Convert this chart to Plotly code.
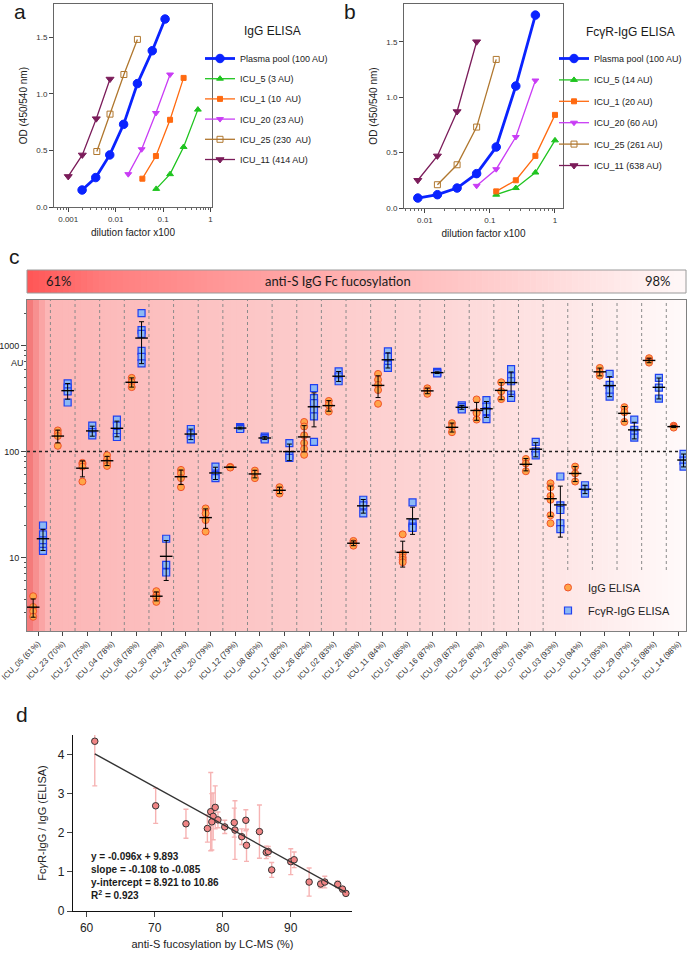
import numpy as np
import plotly.graph_objects as go

W, H = 688, 954
FONT = "Arial, Liberation Sans, sans-serif"


def fx(p):
    return p / W


def fy(p):
    return 1 - p / H


# ---------------- Panel a : IgG ELISA ----------------
a_names = ["Plasma pool (100 AU)", "ICU_5 (3 AU)", "ICU_1 (10  AU)", "ICU_20 (23 AU)",
           "ICU_25 (230  AU)", "ICU_11 (414 AU)"]
a_pool_x = [0.00196, 0.0038, 0.0075, 0.0147, 0.0287, 0.059, 0.11]
a_pool_y = [0.15, 0.26, 0.46, 0.73, 1.09, 1.38, 1.66]
a_icu5_x = [0.0715, 0.14, 0.27, 0.54]
a_icu5_y = [0.16, 0.29, 0.53, 0.86]
a_icu1_x = [0.0365, 0.0705, 0.14, 0.27]
a_icu1_y = [0.25, 0.45, 0.77, 1.14]
a_icu20_x = [0.0184, 0.0353, 0.0705, 0.14]
a_icu20_y = [0.29, 0.51, 0.83, 1.17]
a_icu25_x = [0.0040, 0.0076, 0.0149, 0.0287]
a_icu25_y = [0.49, 0.82, 1.17, 1.48]
a_icu11_x = [0.0010, 0.00198, 0.0039, 0.0076]
a_icu11_y = [0.27, 0.46, 0.78, 1.13]

# ---------------- Panel b : FcgR-IgG ELISA ----------------
b_names = ["Plasma pool (100 AU)", "ICU_5 (14 AU)", "ICU_1 (20 AU)", "ICU_20 (60 AU)",
           "ICU_25 (261 AU)", "ICU_11 (638 AU)"]
b_pool_x = [0.0078, 0.0156, 0.0313, 0.0625, 0.125, 0.25, 0.5]
b_pool_y = [0.09, 0.12, 0.18, 0.31, 0.55, 1.10, 1.74]
b_icu5_x = [0.125, 0.25, 0.5, 1.0]
b_icu5_y = [0.12, 0.18, 0.32, 0.61]
b_icu1_x = [0.125, 0.25, 0.5, 1.0]
b_icu1_y = [0.15, 0.25, 0.47, 0.84]
b_icu20_x = [0.0625, 0.125, 0.25, 0.5]
b_icu20_y = [0.20, 0.35, 0.64, 1.15]
b_icu25_x = [0.0156, 0.0313, 0.0625, 0.125]
b_icu25_y = [0.21, 0.39, 0.73, 1.34]
b_icu11_x = [0.0078, 0.0156, 0.0313, 0.0625]
b_icu11_y = [0.25, 0.47, 0.87, 1.50]

# ---------------- Panel c : per-patient AU ----------------
c_labels = ["ICU_05 (61%)", "ICU_23 (70%)", "ICU_27 (75%)", "ICU_04 (78%)", "ICU_06 (78%)",
            "ICU_30 (79%)", "ICU_24 (79%)", "ICU_20 (79%)", "ICU_12 (79%)", "ICU_08 (80%)",
            "ICU_17 (82%)", "ICU_26 (82%)", "ICU_02 (83%)", "ICU_21 (83%)", "ICU_11 (84%)",
            "ICU_01 (85%)", "ICU_16 (87%)", "ICU_09 (87%)", "ICU_25 (87%)", "ICU_22 (90%)",
            "ICU_07 (91%)", "ICU_03 (93%)", "ICU_10 (94%)", "ICU_13 (95%)", "ICU_29 (97%)",
            "ICU_15 (98%)", "ICU_14 (98%)"]
igg_reps = [
    [4.3, 3.4, 3.1, 2.75], [158, 148, 140, 113], [78, 76, 72, 52], [92, 84, 78, 73],
    [495, 450, 405], [4.8, 4.4, 4.2, 3.8], [67, 62, 56, 46], [29, 26, 22.5, 17.5],
    [71.5, 71, 70.5], [66, 62, 56], [46, 43, 40], [190, 172, 142, 120, 106, 93],
    [300, 275, 238], [14.3, 13.6, 12.9], [540, 475, 425, 380, 282], [16.5, 10.8, 10, 9.5, 9],
    [395, 375, 350], [185, 170, 152], [310, 235, 230, 200], [450, 370, 312],
    [85, 77, 65], [50, 46, 38, 35, 25, 21], [72, 62, 52], [615, 560, 520],
    [262, 235, 190], [760, 720, 690], [175, 172, 168]]
fcr_reps = [
    [20, 16.5, 14.5, 12.5, 11.5], [440, 400, 370, 290], [175, 152, 142], [200, 175, 150, 137],
    [2020, 1400, 1290, 890, 780, 680], [15, 8.5, 7.2], [163, 145, 130], [72, 60, 56],
    [170, 166, 163], [138, 134, 130], [120, 92, 87], [396, 319, 286, 247, 214, 123],
    [570, 510, 460], [35, 31, 26], [880, 780, 660, 615], [33, 21, 19.5, 19],
    [565, 555, 545], [272, 262, 250], [305, 265, 240, 202], [600, 510, 460, 345, 320],
    [123, 100, 92], [58, 31, 28, 21, 18.5], [48, 44, 40], [540, 425, 380, 330],
    [200, 160, 145, 135], [495, 400, 315], [95, 82, 72]]
ref_level = 100
c_y_ticks = [10, 100, 1000]

# ---------------- Panel d : ratio vs fucosylation ----------------
d_x = [61.2, 70.15, 74.6, 77.75, 78.24, 78.6, 78.4, 78.9, 79.3, 80.3, 81.7, 81.8, 82.8, 83.4,
       83.5, 85.4, 86.4, 86.7, 87.2, 90.0, 90.5, 92.7, 94.4, 95.0, 96.9, 97.6, 98.1]
d_y = [4.34, 2.69, 2.23, 2.11, 2.54, 2.42, 2.28, 2.65, 2.33, 2.15, 2.26, 2.07, 1.90, 2.32,
       1.68, 2.03, 1.50, 1.52, 1.05, 1.26, 1.31, 0.74, 0.69, 0.74, 0.68, 0.56, 0.45]
d_err = [1.14, 0.45, 0.37, 0.35, 1.0, 0.6, 0.72, 0.55, 0.2, 0.17, 0.37, 0.75, 0.2, 0.27,
         0.41, 0.68, 0.16, 0.13, 0.19, 0.33, 0.2, 0.36, 0.1, 0.15, 0.09, 0.07, 0.05]
fit_slope = -0.096
fit_intercept = 9.893
fit_text = ["y = -0.096x + 9.893", "slope = -0.108 to -0.085",
            "y-intercept = 8.921 to 10.86", "R<sup>2</sup> = 0.923"]

# ======================================================================
fig = go.Figure()

styles = [
    dict(color="#0a23ff", symbol="circle", size=8.5, width=2.8),
    dict(color="#1fc41f", symbol="triangle-up", size=6, width=1.3),
    dict(color="#ff6a10", symbol="square", size=5, width=1.3),
    dict(color="#c93cf5", symbol="triangle-down", size=6, width=1.3),
    dict(color="#b0772e", symbol="square-open", size=6, width=1.3),
    dict(color="#7b1c5a", symbol="triangle-down", size=7, width=1.3),
]

a_data = [(a_pool_x, a_pool_y), (a_icu5_x, a_icu5_y), (a_icu1_x, a_icu1_y),
          (a_icu20_x, a_icu20_y), (a_icu25_x, a_icu25_y), (a_icu11_x, a_icu11_y)]
b_data = [(b_pool_x, b_pool_y), (b_icu5_x, b_icu5_y), (b_icu1_x, b_icu1_y),
          (b_icu20_x, b_icu20_y), (b_icu25_x, b_icu25_y), (b_icu11_x, b_icu11_y)]

for k, ((xs, ys), nm, st) in enumerate(zip(a_data, a_names, styles)):
    fig.add_trace(go.Scatter(
        x=xs, y=ys, name=nm, mode="lines+markers", xaxis="x", yaxis="y",
        legend="legend", legendgroup="a%d" % k,
        line=dict(color=st["color"], width=st["width"]),
        marker=dict(symbol=st["symbol"], size=st["size"], color=st["color"],
                    line=dict(color=st["color"], width=1))))

for k, ((xs, ys), nm, st) in enumerate(zip(b_data, b_names, styles)):
    fig.add_trace(go.Scatter(
        x=xs, y=ys, name=nm, mode="lines+markers", xaxis="x2", yaxis="y2",
        legend="legend2", legendgroup="b%d" % k,
        line=dict(color=st["color"], width=st["width"]),
        marker=dict(symbol=st["symbol"], size=st["size"], color=st["color"],
                    line=dict(color=st["color"], width=1))))

# ---- panel c points
off = 0.2
n_c = len(c_labels)
ix_igg, iy_igg, ix_fcr, iy_fcr = [], [], [], []
m_igg, s_igg, m_fcr, s_fcr = [], [], [], []
for i in range(n_c):
    g = np.array(igg_reps[i], dtype=float)
    f = np.array(fcr_reps[i], dtype=float)
    ix_igg += [i - off] * len(g)
    iy_igg += list(g)
    ix_fcr += [i + off] * len(f)
    iy_fcr += list(f)
    m_igg.append(g.mean()); s_igg.append(g.std(ddof=1))
    m_fcr.append(f.mean()); s_fcr.append(f.std(ddof=1))

# reference dotted line at 100 AU
fig.add_trace(go.Scatter(x=[-0.45, n_c - 0.7], y=[ref_level, ref_level], mode="lines",
                         xaxis="x3", yaxis="y3", showlegend=False, hoverinfo="skip",
                         line=dict(color="#222", width=1.6, dash="dot")))

fig.add_trace(go.Scatter(
    x=ix_igg, y=iy_igg, name="IgG ELISA", mode="markers", xaxis="x3", yaxis="y3",
    legend="legend3", legendgroup="c1",
    marker=dict(symbol="circle", size=7, color="#ffa548", line=dict(color="#f0522a", width=1))))
fig.add_trace(go.Scatter(
    x=ix_fcr, y=iy_fcr, name="FcγR-IgG ELISA", mode="markers", xaxis="x3", yaxis="y3",
    legend="legend3", legendgroup="c2",
    marker=dict(symbol="square", size=7, color="#8cb9f4", line=dict(color="#2140f0", width=1.2))))

for xs, ms, ss in [([i - off for i in range(n_c)], m_igg, s_igg),
                   ([i + off for i in range(n_c)], m_fcr, s_fcr)]:
    fig.add_trace(go.Scatter(
        x=xs, y=ms, mode="markers", xaxis="x3", yaxis="y3", showlegend=False,
        marker=dict(symbol="line-ew", size=9, color="black", line=dict(color="black", width=1.4)),
        error_y=dict(type="data", array=ss, color="black", thickness=1, width=2.5)))

# ---- panel d
fig.add_trace(go.Scatter(
    x=d_x, y=d_y, mode="markers", xaxis="x4", yaxis="y4", showlegend=False,
    marker=dict(symbol="circle", size=6.5, color="#f08585", line=dict(color="#333", width=1)),
    error_y=dict(type="data", array=d_err, color="#f6b3b3", thickness=1.4, width=2.5)))
fx_line = np.array([min(d_x), max(d_x)])
fig.add_trace(go.Scatter(
    x=fx_line, y=fit_slope * fx_line + fit_intercept, mode="lines", xaxis="x4", yaxis="y4",
    showlegend=False, line=dict(color="#333", width=1.4)))

# ======================================================================
shapes = []
annotations = []


def grad(anchors, t):
    for (t0, c0), (t1, c1) in zip(anchors[:-1], anchors[1:]):
        if t0 <= t <= t1:
            u = (t - t0) / (t1 - t0) if t1 > t0 else 0
            return "rgb(%d,%d,%d)" % tuple(round(a + (b - a) * u) for a, b in zip(c0, c1))
    return "rgb(%d,%d,%d)" % anchors[-1][1]


bar_anchors = [(0, (255, 86, 86)), (0.12, (255, 125, 125)), (0.3, (255, 152, 152)),
               (0.67, (255, 200, 200)), (1.0, (255, 248, 248))]
bg_anchors = [(0, (242, 112, 112)), (0.03, (252, 182, 182)), (0.3, (252, 196, 196)),
              (0.6, (253, 212, 212)), (0.8, (254, 229, 229)), (1.0, (255, 250, 250))]

cx0, cx1 = 27, 686
cy0, cy1 = 300, 631
bar_y0, bar_y1 = 270, 293
N = 110
for j in range(N):
    t = (j + 0.5) / N
    xa = cx0 + (cx1 - cx0) * j / N
    xb = cx0 + (cx1 - cx0) * (j + 1) / N + 0.6
    shapes.append(dict(type="rect", xref="paper", yref="paper", x0=fx(xa), x1=fx(min(xb, cx1)),
                       y0=fy(bar_y1), y1=fy(bar_y0), fillcolor=grad(bar_anchors, t),
                       line=dict(width=0), layer="below"))
    shapes.append(dict(type="rect", xref="paper", yref="paper", x0=fx(xa), x1=fx(min(xb, cx1)),
                       y0=fy(cy1), y1=fy(cy0), fillcolor=grad(bg_anchors, t),
                       line=dict(width=0), layer="below"))
shapes.append(dict(type="rect", xref="paper", yref="paper", x0=fx(cx0), x1=fx(cx1),
                   y0=fy(bar_y1), y1=fy(bar_y0), line=dict(color="#9a9a9a", width=1)))

# column separators
for k in range(n_c - 1):
    ytop = 1.0
    ybot = 0.0 if k < 21 else (cy1 - 570) / (cy1 - cy0)
    shapes.append(dict(type="line", xref="x3", yref="y3 domain", x0=k + 0.5, x1=k + 0.5,
                       y0=ybot, y1=ytop, line=dict(color="#8a8a8a", width=1, dash="dot"),
                       layer="below"))


def ann(text, x, y, size, family=FONT, xanchor="center", yanchor="middle", **kw):
    d = dict(text=text, x=fx(x), y=fy(y), xref="paper", yref="paper", showarrow=False,
             xanchor=xanchor, yanchor=yanchor, font=dict(family=family, size=size, color="#1a1a1a"))
    d.update(kw)
    return d


BARF = "Lato, Open Sans, sans-serif"
annotations += [
    ann("61%", 59, 281.5, 13, BARF),
    ann("anti-S IgG Fc fucosylation", 338, 281.5, 13, BARF),
    ann("98%", 658, 281.5, 13, BARF),
    ann("AU", 17, 363, 9),
    ann("IgG ELISA", 242, 31, 12, xanchor="left"),
    ann("FcγR-IgG ELISA", 584, 32, 12, xanchor="left"),
    ann("<br>".join("<b>%s</b>" % s for s in fit_text), 89, 876, 10, xanchor="left",
        align="left"),
]
for lab, xx, yy in [("a", 20, 12), ("b", 350, 12), ("c", 14, 256), ("d", 22, 714)]:
    annotations.append(ann(lab, xx, yy, 21))


def log_minor(lo, hi):
    vals = []
    for e in range(lo, hi):
        for m in range(2, 10):
            vals.append(m * 10 ** e)
    return vals


TICKF = dict(family=FONT, size=8, color="#333")
AXT = dict(family=FONT, size=10, color="#222")

layout_axes = dict(
    xaxis=dict(domain=[fx(54), fx(212)], anchor="y", type="log", range=[-3.3, 0.03],
               tickvals=[0.001, 0.01, 0.1, 1], ticktext=["0.001", "0.01", "0.1", "1"],
               ticks="outside", ticklen=4, showline=True, mirror=True, linecolor="#666",
               tickfont=TICKF, showgrid=False, zeroline=False,
               minor=dict(ticks="outside", ticklen=2, tickvals=log_minor(-4, 1), tickcolor="#666"),
               title=dict(text="dilution factor x100", font=AXT, standoff=6)),
    yaxis=dict(domain=[fy(207), fy(4.3)], anchor="x", range=[0, 1.79],
               tickvals=[0, 0.5, 1.0, 1.5], ticktext=["0.0", "0.5", "1.0", "1.5"],
               ticks="outside", ticklen=4, showline=True, mirror=True, linecolor="#666",
               tickfont=TICKF, showgrid=False, zeroline=False,
               title=dict(text="OD (450/540 nm)", font=AXT, standoff=6)),
    xaxis2=dict(domain=[fx(404), fx(563)], anchor="y2", type="log", range=[-2.32, 0.123],
                tickvals=[0.01, 0.1, 1], ticktext=["0.01", "0.1", "1"],
                ticks="outside", ticklen=4, showline=True, mirror=True, linecolor="#666",
                tickfont=TICKF, showgrid=False, zeroline=False,
                minor=dict(ticks="outside", ticklen=2, tickvals=log_minor(-3, 1), tickcolor="#666"),
                title=dict(text="dilution factor x100", font=AXT, standoff=6)),
    yaxis2=dict(domain=[fy(208), fy(4)], anchor="x2", range=[0, 1.84],
                tickvals=[0, 0.5, 1.0, 1.5], ticktext=["0.0", "0.5", "1.0", "1.5"],
                ticks="outside", ticklen=4, showline=True, mirror=True, linecolor="#666",
                tickfont=TICKF, showgrid=False, zeroline=False,
                title=dict(text="OD (450/540 nm)", font=AXT, standoff=6)),
    xaxis3=dict(domain=[fx(cx0), fx(cx1)], anchor="y3", range=[-0.45, n_c - 0.7],
                tickvals=list(range(n_c)), ticktext=c_labels, tickangle=-45,
                ticks="outside", ticklen=4, showline=True, mirror=True, linecolor="#808080",
                tickfont=dict(family=FONT, size=8, color="#333"), showgrid=False,
                zeroline=False),
    yaxis3=dict(domain=[fy(cy1), fy(cy0)], anchor="x3", type="log", range=[0.305, 3.43],
                tickvals=c_y_ticks, ticktext=[str(v) for v in c_y_ticks],
                ticks="outside", ticklen=5, showline=True, mirror=True, linecolor="#808080",
                tickfont=dict(family=FONT, size=9, color="#222"), showgrid=False,
                zeroline=False,
                minor=dict(ticks="outside", ticklen=2.5, tickvals=log_minor(0, 4), tickcolor="#555")),
    xaxis4=dict(domain=[fx(73), fx(352)], anchor="y4", range=[58, 99],
                tickvals=[60, 70, 80, 90], ticks="outside", ticklen=5, tickwidth=1.3,
                showline=True, linecolor="#111", linewidth=1.4,
                tickfont=dict(family=FONT, size=12, color="#222"), showgrid=False,
                zeroline=False,
                title=dict(text="anti-S fucosylation by LC-MS (%)",
                           font=dict(family=FONT, size=11, color="#222"), standoff=6)),
    yaxis4=dict(domain=[fy(911), fy(735)], anchor="x4", range=[0, 4.5],
                tickvals=[0, 1, 2, 3, 4], ticks="outside", ticklen=5, tickwidth=1.3,
                showline=True, linecolor="#111", linewidth=1.4,
                tickfont=dict(family=FONT, size=12, color="#222"), showgrid=False,
                zeroline=False,
                title=dict(text="Fc<i>γ</i>R-IgG / IgG (ELISA)",
                           font=dict(family=FONT, size=11, color="#222"), standoff=8)),
)

fig.update_layout(
    width=W, height=H, margin=dict(l=0, r=0, t=0, b=0, autoexpand=False),
    paper_bgcolor="white", plot_bgcolor="rgba(0,0,0,0)",
    font=dict(family=FONT, color="#222"),
    shapes=shapes, annotations=annotations,
    legend=dict(x=fx(200), y=fy(44), xanchor="left", yanchor="top",
                font=dict(family=FONT, size=9, color="#222"), bgcolor="rgba(0,0,0,0)",
                itemwidth=30, tracegroupgap=1.2),
    legend2=dict(x=fx(554), y=fy(44), xanchor="left", yanchor="top",
                 font=dict(family=FONT, size=9, color="#222"), bgcolor="rgba(0,0,0,0)",
                 itemwidth=30, tracegroupgap=2.4),
    legend3=dict(x=fx(548), y=fy(573), xanchor="left", yanchor="top",
                 font=dict(family=FONT, size=11, color="#222"), bgcolor="rgba(0,0,0,0)",
                 itemwidth=30, tracegroupgap=4),
    **layout_axes,
)

fig.write_html("out.html", config={"displayModeBar": False},
               post_script="document.body.style.margin='0px';")
